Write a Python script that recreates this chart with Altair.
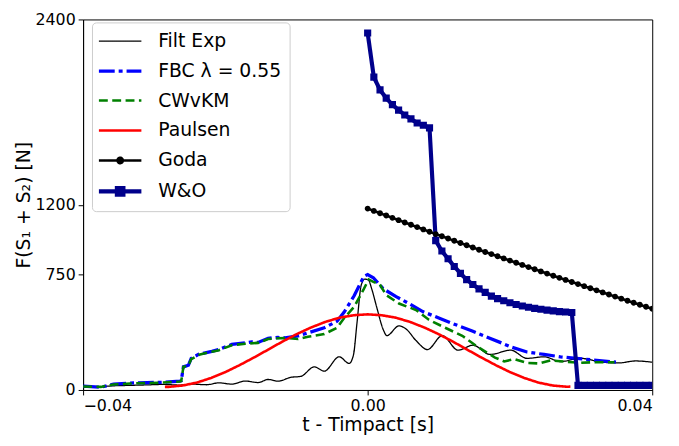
import altair as alt
import pandas as pd

SERIES = ["Filt Exp", "FBC λ = 0.55", "CWvKM", "Paulsen", "Goda", "W&O"]
COLORS = ["#000000", "#0000ff", "#008000", "#ff0000", "#000000", "#00008b"]
DASHES = [[1, 0], [16, 4, 4, 4], [9, 4.5], [1, 0], [1, 0], [1, 0]]
WIDTHS = [1.3, 3.3, 2.6, 2.6, 2.6, 4.2]
LINE = "M-2.15,0H2.15"
SHAPES = [LINE, LINE, LINE, LINE,
          LINE + "M0.27,0A0.27,0.27,0,1,1,-0.27,0A0.27,0.27,0,1,1,0.27,0Z",
          LINE + "M-0.33,-0.33H0.33V0.33H-0.33Z"]

# Filtered experiment
fe_t = [-0.0400, -0.0375, -0.0357, -0.0334, -0.0310, -0.0288, -0.0264, -0.0246, -0.0227,
        -0.0209, -0.0191, -0.0172, -0.0154, -0.0140, -0.0126, -0.0108, -0.0094, -0.0075,
        -0.0061, -0.0040, -0.0026, -0.0020, -0.0015, -0.0009, -0.0004, 0.0001, 0.0006,
        0.00125, 0.0022, 0.0027, 0.0044, 0.0054, 0.0068, 0.0084, 0.0105, 0.0127, 0.0148,
        0.0172, 0.0201, 0.0224, 0.0248, 0.0271, 0.0299, 0.0327, 0.0352, 0.0377, 0.0400]
fe_F = [17, 22, 27, 30, 33, 36, 32, 38, 34,
        46, 38, 58, 48, 68, 57, 82, 88, 150,
        122, 215, 172, 226, 434, 680, 718, 712, 650,
        540, 390, 352, 415, 395, 320, 262, 352, 258, 290,
        230, 258, 205, 215, 184, 205, 182, 175, 188, 180]

# FBC lambda = 0.55
fbc_t = [-0.0400, -0.0375, -0.0357, -0.0334, -0.0310, -0.0288, -0.0264, -0.0262, -0.0259,
         -0.0252, -0.0248, -0.0237, -0.0219, -0.0209, -0.0191, -0.0172, -0.0163, -0.0154,
         -0.0140, -0.0126, -0.0116, -0.0098, -0.0084, -0.0061, -0.0043, -0.0033, -0.0019,
         -0.00055, 0.0000, 0.0008, 0.0022, 0.0040, 0.0058, 0.00775, 0.0100, 0.0123, 0.0147,
         0.0169, 0.0188, 0.0202, 0.0224, 0.0248, 0.0271, 0.0293, 0.0317, 0.0349]
fbc_F = [25, 18, 38, 45, 48, 50, 58, 60, 150,
         160, 205, 232, 250, 262, 295, 305, 312, 308,
         335, 340, 338, 350, 370, 403, 445, 505, 610,
         735, 748, 727, 655, 605, 560, 508, 466, 424, 382,
         340, 305, 278, 246, 230, 215, 205, 194, 180]

# CWvKM
cw_t = [-0.0400, -0.0375, -0.0357, -0.0334, -0.0310, -0.0288, -0.0264, -0.0262, -0.0259,
        -0.0252, -0.0248, -0.0237, -0.0219, -0.0209, -0.0191, -0.0172, -0.0154, -0.0140,
        -0.0126, -0.0112, -0.0098, -0.0084, -0.0061, -0.0043, -0.0033, -0.0019, -0.00055,
        0.00014, 0.0008, 0.0017, 0.0026, 0.0044, 0.0068, 0.0086, 0.0109, 0.0133, 0.0155,
        0.0169, 0.0179, 0.0192, 0.0206, 0.0224, 0.0241, 0.0257, 0.0280, 0.0300, 0.0317, 0.0347]
cw_F = [22, 20, 35, 42, 45, 48, 55, 58, 150,
        158, 200, 228, 248, 258, 290, 300, 305, 330,
        335, 336, 330, 345, 362, 403, 466, 539, 653,
        716, 700, 685, 615, 560, 518, 455, 403, 351, 278,
        238, 210, 185, 200, 175, 172, 192, 182, 176, 180, 180]

# Paulsen
pa_t = [-0.0285, -0.028, -0.026, -0.024, -0.022, -0.020, -0.018, -0.016, -0.014, -0.012,
        -0.010, -0.008, -0.006, -0.004, -0.002, 0.000, 0.002, 0.004, 0.006, 0.008, 0.010,
        0.012, 0.014, 0.016, 0.018, 0.020, 0.022, 0.024, 0.026, 0.028, 0.0285]
pa_F = [20, 20, 29, 48, 78, 116, 161, 210, 261, 313,
        361, 404, 440, 468, 484, 490, 484, 468, 440, 404, 361,
        313, 261, 210, 161, 116, 78, 48, 29, 21, 22]

# Goda and W&O share one time grid
grid_t = [round(i * 0.04 / 46, 6) for i in range(47)]
goda_F = [1175, 1160, 1145, 1130, 1115, 1100, 1085, 1070, 1055, 1040, 1025, 1010, 995.5,
          981, 966.5, 952, 937.5, 923, 908.5, 894, 880, 866, 852, 838, 824, 810, 796, 782,
          768, 754, 740, 726.5, 713, 699.5, 686, 672.5, 659, 645.5, 632, 618.5, 605, 591.5,
          578, 565, 552, 539, 526]
wo_F = [2312, 2026, 1944, 1890, 1848, 1813, 1781, 1756, 1729, 1715, 1698,
        967, 900, 850, 800, 755, 715, 683, 655, 632, 608, 592, 578, 565, 554, 544,
        536, 529, 523, 517, 512, 508, 505, 502,
        30, 30, 30, 30, 30, 30, 30, 30, 30, 30, 30, 30, 30]


def frame(name, ts, fs):
    return pd.DataFrame({"t": ts, "F": fs, "series": name})


df_fe = frame(SERIES[0], fe_t, fe_F)
df_lines = pd.concat([
    frame(SERIES[1], fbc_t, fbc_F),
    frame(SERIES[2], cw_t, cw_F),
    frame(SERIES[3], pa_t, pa_F),
    frame(SERIES[4], grid_t, goda_F),
    frame(SERIES[5], grid_t, wo_F),
], ignore_index=True)
df_pts = pd.concat([
    frame(SERIES[4], grid_t, goda_F),
    frame(SERIES[5], grid_t, wo_F),
], ignore_index=True)

leg = alt.Legend(
    title=None, orient="none", legendX=9, legendY=3, padding=8,
    symbolSize=400, symbolOffset=8, labelOffset=26, rowPadding=8.3,
    labelFontSize=19, labelFont="DejaVu Sans", labelColor="black",
    fillColor="rgba(255,255,255,0.8)", strokeColor="#cccccc", cornerRadius=4,
    symbolOpacity=1,
)

xs = alt.Scale(domain=[-0.04, 0.04], nice=False, zero=False)
ys = alt.Scale(domain=[0, 2400], nice=False, zero=False)
x_enc = alt.X("t:Q", scale=xs, axis=alt.Axis(values=[-0.04, 0, 0.04], format=".2f",
                                             title="t  - Timpact [s]", titlePadding=2))
y_enc = alt.Y("F:Q", scale=ys, axis=alt.Axis(values=[0, 750, 1200, 2400], format="d",
                                             title="F(S₁ + S₂) [N]", titlePadding=2))
color = alt.Color("series:N", scale=alt.Scale(domain=SERIES, range=COLORS), legend=leg)
dash = alt.StrokeDash("series:N", scale=alt.Scale(domain=SERIES, range=DASHES), legend=leg)
swid = alt.StrokeWidth("series:N", scale=alt.Scale(type="ordinal", domain=SERIES, range=WIDTHS), legend=leg)
shape = alt.Shape("series:N", scale=alt.Scale(domain=SERIES, range=SHAPES), legend=leg)

fe_layer = alt.Chart(df_fe).mark_line(interpolate="monotone", clip=True).encode(
    x=x_enc, y=y_enc, color=color, strokeDash=dash, strokeWidth=swid)
line_layer = alt.Chart(df_lines).mark_line(clip=True).encode(
    x=x_enc, y=y_enc, color=color, strokeDash=dash, strokeWidth=swid)
pt_layer = alt.Chart(df_pts).mark_point(filled=True, size=480, opacity=1, clip=True).encode(
    x=x_enc, y=y_enc, color=color, shape=shape)

chart = alt.layer(fe_layer, line_layer, pt_layer).properties(
    width=576, height=375,
    autosize=alt.AutoSizeParams(type="none"),
    padding={"left": 76, "top": 9, "right": 19, "bottom": 46},
).configure(font="DejaVu Sans").configure_view(
    stroke="black", strokeWidth=1
).configure_axis(
    grid=False, domainColor="black", tickColor="black", tickSize=5, labelPadding=3,
    labelFontSize=16, labelColor="black", titleFontSize=19, titleFontWeight="normal",
    titleColor="black", labelFont="DejaVu Sans", titleFont="DejaVu Sans",
)

chart.save("out.html", embed_options={"renderer": "svg", "actions": False})
